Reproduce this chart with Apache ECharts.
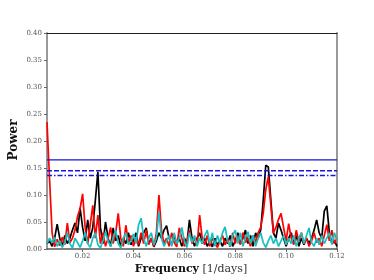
<!DOCTYPE html>
<html><head><meta charset="utf-8">
<script src="https://cdn.jsdelivr.net/npm/echarts@6/dist/echarts.min.js"></script>
<style>html,body{margin:0;padding:0;background:#fff}#c{width:374px;height:280px}</style>
</head><body><div id="c"></div>
<script>
const freq = [0.006,0.007,0.008,0.009,0.010,0.011,0.012,0.013,0.014,0.015,0.016,0.017,0.018,0.019,0.020,0.021,0.022,0.023,0.024,0.025,0.026,0.027,0.028,0.029,0.030,0.031,0.032,0.033,0.034,0.035,0.036,0.037,0.038,0.039,0.040,0.041,0.042,0.043,0.044,0.045,0.046,0.047,0.048,0.049,0.050,0.051,0.052,0.053,0.054,0.055,0.056,0.057,0.058,0.059,0.060,0.061,0.062,0.063,0.064,0.065,0.066,0.067,0.068,0.069,0.070,0.071,0.072,0.073,0.074,0.075,0.076,0.077,0.078,0.079,0.080,0.081,0.082,0.083,0.084,0.085,0.086,0.087,0.088,0.089,0.090,0.091,0.092,0.093,0.094,0.095,0.096,0.097,0.098,0.099,0.100,0.101,0.102,0.103,0.104,0.105,0.106,0.107,0.108,0.109,0.110,0.111,0.112,0.113,0.114,0.115,0.116,0.117,0.118,0.119,0.120];
const redPower = [0.235,0.13,0.03,0.004,0.018,0.006,0.022,0.008,0.048,0.012,0.02,0.035,0.06,0.075,0.102,0.04,0.01,0.045,0.081,0.02,0.063,0.01,0.03,0.005,0.02,0.04,0.01,0.03,0.066,0.02,0.005,0.044,0.012,0.025,0.005,0.02,0.008,0.03,0.01,0.035,0.008,0.02,0.005,0.03,0.10,0.035,0.01,0.02,0.005,0.03,0.012,0.004,0.039,0.02,0.005,0.015,0.035,0.01,0.02,0.006,0.063,0.02,0.008,0.025,0.005,0.02,0.01,0.003,0.015,0.025,0.008,0.018,0.004,0.03,0.01,0.025,0.008,0.03,0.012,0.02,0.005,0.025,0.012,0.03,0.04,0.066,0.11,0.134,0.08,0.03,0.04,0.055,0.066,0.04,0.015,0.047,0.02,0.008,0.035,0.015,0.03,0.01,0.02,0.005,0.015,0.03,0.012,0.02,0.005,0.025,0.045,0.015,0.035,0.01,0.02];
const blackPower = [0.01,0.015,0.005,0.02,0.046,0.02,0.005,0.025,0.01,0.02,0.035,0.048,0.03,0.076,0.04,0.015,0.054,0.02,0.04,0.09,0.143,0.04,0.01,0.05,0.02,0.005,0.039,0.015,0.025,0.005,0.02,0.01,0.03,0.008,0.015,0.03,0.005,0.02,0.03,0.039,0.01,0.02,0.004,0.015,0.03,0.02,0.035,0.043,0.02,0.008,0.025,0.01,0.02,0.005,0.02,0.01,0.054,0.02,0.005,0.02,0.03,0.01,0.02,0.005,0.015,0.004,0.02,0.008,0.015,0.005,0.02,0.01,0.025,0.005,0.015,0.03,0.01,0.02,0.035,0.01,0.025,0.005,0.03,0.02,0.035,0.09,0.155,0.152,0.09,0.03,0.02,0.048,0.035,0.02,0.005,0.02,0.03,0.01,0.025,0.005,0.02,0.008,0.02,0.01,0.02,0.035,0.054,0.03,0.02,0.07,0.08,0.03,0.01,0.015,0.005];
const cyanPower = [0.01,0.02,0.012,0.022,0.005,0.015,0.003,0.012,0.03,0.01,0.002,0.02,0.012,0.003,0.015,0.03,0.01,0.003,0.02,0.03,0.008,0.002,0.015,0.032,0.015,0.005,0.02,0.035,0.01,0.002,0.02,0.03,0.008,0.015,0.028,0.01,0.045,0.057,0.02,0.005,0.02,0.03,0.008,0.02,0.069,0.02,0.005,0.015,0.025,0.005,0.03,0.01,0.02,0.04,0.015,0.003,0.03,0.012,0.025,0.005,0.02,0.01,0.025,0.035,0.01,0.03,0.005,0.025,0.01,0.03,0.041,0.015,0.005,0.025,0.035,0.01,0.03,0.005,0.02,0.032,0.01,0.025,0.005,0.02,0.03,0.012,0.003,0.015,0.025,0.01,0.02,0.005,0.015,0.025,0.008,0.02,0.01,0.025,0.005,0.02,0.03,0.01,0.025,0.039,0.012,0.005,0.02,0.008,0.025,0.01,0.02,0.03,0.008,0.03,0.015];
const levelSolid = 0.165, levelDashed = 0.145, levelDashDot = 0.136;
const xTicks = [0.02,0.04,0.06,0.08,0.10,0.12];
const xMin = 0.006, xMax = 0.12;

const pair = (a) => freq.map((f,i)=>[f,a[i]]);
const hline = (v) => [[xMin,v],[xMax,v]];
const serif = 'DejaVu Serif';
const chart = echarts.init(document.getElementById('c'), null, {renderer:'canvas'});
chart.setOption({
  animation:false,
  grid:{left:47,right:37,top:33,bottom:31},
  xAxis:[{
    type:'value',min:xMin,max:xMax,
    axisLine:{onZero:false,lineStyle:{color:'#555',width:1.5}},
    axisTick:{customValues:xTicks,length:3,lineStyle:{color:'#666'}},
    axisLabel:{customValues:xTicks,formatter:v=>v.toFixed(2),fontFamily:serif,fontSize:7,color:'#555',margin:4},
    splitLine:{show:false}
  },{
    type:'value',position:'top',min:xMin,max:xMax,
    axisLine:{show:true,onZero:false,lineStyle:{color:'#222',width:1}},
    axisTick:{show:false},axisLabel:{show:false},splitLine:{show:false}
  }],
  yAxis:[{
    type:'value',min:0,max:0.4,interval:0.05,
    axisLine:{show:true,onZero:false,lineStyle:{color:'#999',width:2}},
    axisTick:{show:true,length:3,lineStyle:{color:'#666'}},
    axisLabel:{formatter:v=>v.toFixed(2),fontFamily:serif,fontSize:7,color:'#555',margin:5},
    splitLine:{show:false}
  },{
    type:'value',position:'right',min:0,max:0.4,
    axisLine:{show:true,onZero:false,lineStyle:{color:'#999',width:2}},
    axisTick:{show:false},axisLabel:{show:false},splitLine:{show:false}
  }],
  series:[
    {type:'line',data:pair(blackPower),showSymbol:false,lineStyle:{color:'#000',width:1.7},z:3},
    {type:'line',data:pair(redPower),showSymbol:false,lineStyle:{color:'#ff0000',width:1.7},z:4},
    {type:'line',data:pair(cyanPower),showSymbol:false,lineStyle:{color:'#17bfbf',width:1.7},z:5},
    {type:'line',data:hline(levelSolid),showSymbol:false,lineStyle:{color:'#1515e0',width:1.4},z:6},
    {type:'line',data:hline(levelDashed),showSymbol:false,lineStyle:{color:'#1515e0',width:1.4,type:[5,2]},z:6},
    {type:'line',data:hline(levelDashDot),showSymbol:false,lineStyle:{color:'#1515e0',width:1.4,type:[5,2,1.5,2]},z:6}
  ],
  graphic:[
    {type:'text',x:14,y:140,rotation:Math.PI/2,style:{text:'Power',font:'bold 12px "DejaVu Serif"',fill:'#111',align:'center',verticalAlign:'middle'}},
    {type:'text',x:191,y:269,style:{text:'{b|Frequency} [1/days]',font:'11px "DejaVu Serif"',fill:'#333',align:'center',verticalAlign:'middle',rich:{b:{fontWeight:'bold',fontFamily:serif,fontSize:11,fill:'#111'}}}}
  ]
});
</script></body></html>
